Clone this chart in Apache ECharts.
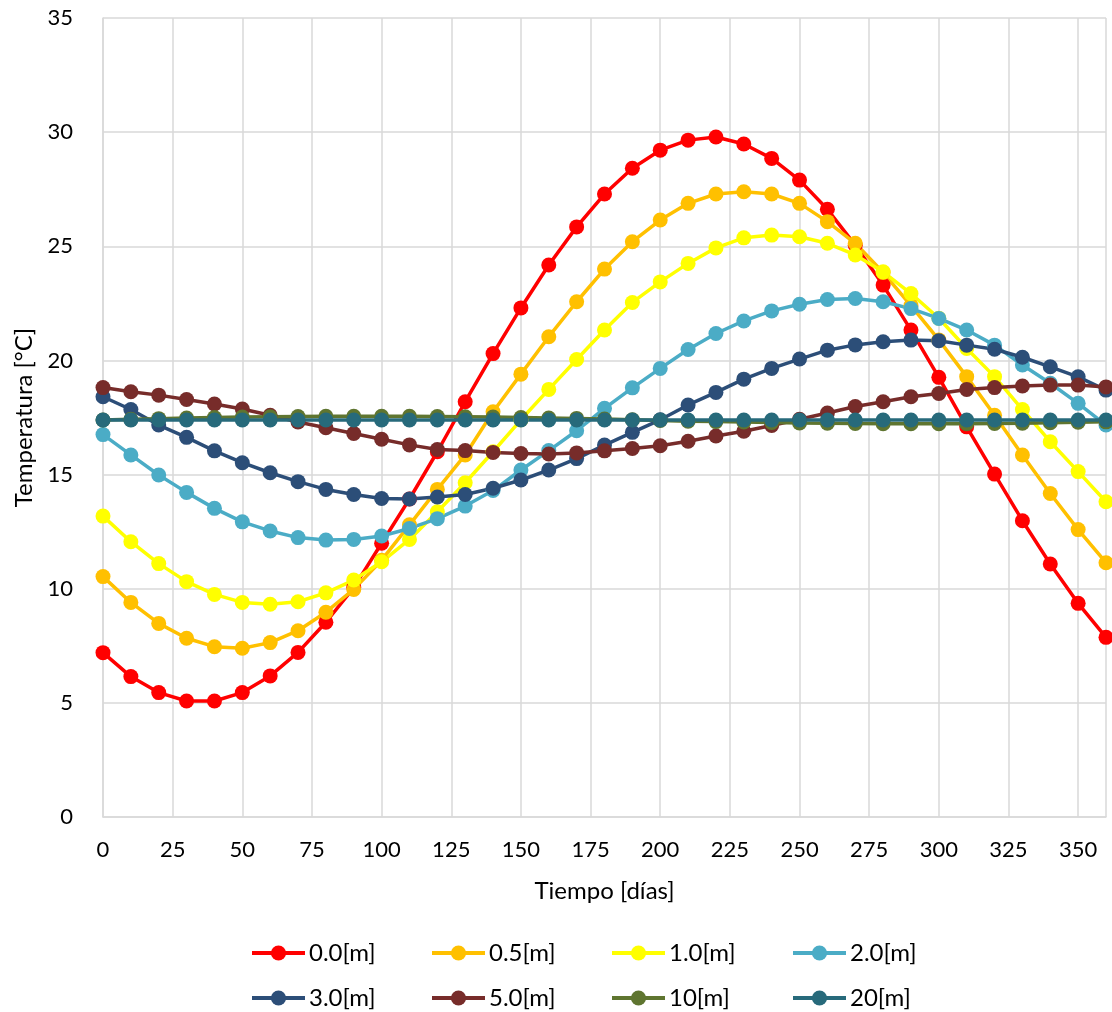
<!DOCTYPE html>
<html>
<head>
<meta charset="utf-8">
<script src="https://cdn.jsdelivr.net/npm/echarts@6/dist/echarts.min.js"></script>
<style>
html,body{margin:0;padding:0;background:#fff;}
#chart{width:1112px;height:1012px;}
</style>
</head>
<body>
<div id="chart"></div>
<script>
const days = [0,10,20,30,40,50,60,70,80,90,100,110,120,130,140,150,160,170,180,190,200,210,220,230,240,250,260,270,280,290,300,310,320,330,340,350,360];
const xTicks = [0,25,50,75,100,125,150,175,200,225,250,275,300,325,350];
const yTicks = [0,5,10,15,20,25,30,35];

const seriesNames = ['0.0[m]','0.5[m]','1.0[m]','2.0[m]','3.0[m]','5.0[m]','10[m]','20[m]'];

const t00 = [7.2,6.15,5.45,5.08,5.08,5.45,6.18,7.21,8.53,10.05,11.99,13.93,16.0,18.19,20.3,22.3,24.18,25.85,27.29,28.42,29.21,29.65,29.79,29.48,28.85,27.9,26.62,25.05,23.3,21.33,19.26,17.09,15.02,12.98,11.08,9.36,7.87];
const t05 = [10.53,9.40,8.48,7.83,7.46,7.39,7.64,8.16,8.97,9.97,11.25,12.8,14.35,15.86,17.75,19.40,21.04,22.57,24.0,25.2,26.15,26.88,27.29,27.39,27.29,26.88,26.08,25.13,23.85,22.4,20.9,19.29,17.6,15.86,14.17,12.59,11.14];
const t10 = [13.18,12.06,11.1,10.31,9.75,9.40,9.32,9.43,9.82,10.38,11.18,12.16,13.37,14.64,16.0,17.4,18.73,20.04,21.33,22.54,23.44,24.25,24.93,25.37,25.49,25.42,25.13,24.62,23.88,22.93,21.85,20.52,19.29,17.85,16.44,15.13,13.81];
const t20 = [16.75,15.86,14.98,14.22,13.52,12.93,12.53,12.24,12.13,12.16,12.31,12.64,13.07,13.62,14.3,15.2,16.05,16.92,17.9,18.8,19.65,20.48,21.18,21.73,22.17,22.46,22.67,22.71,22.57,22.27,21.84,21.33,20.67,19.8,19.0,18.12,17.17];
const t30 = [18.41,17.85,17.17,16.63,16.04,15.52,15.08,14.69,14.35,14.13,13.95,13.93,14.02,14.13,14.4,14.76,15.2,15.7,16.29,16.85,17.4,18.05,18.6,19.18,19.65,20.06,20.45,20.68,20.82,20.89,20.86,20.67,20.49,20.14,19.72,19.28,18.70];
const t50 = [18.81,18.63,18.48,18.29,18.09,17.87,17.6,17.3,17.05,16.8,16.55,16.3,16.1,16.05,15.97,15.92,15.9,15.95,16.04,16.14,16.26,16.46,16.69,16.9,17.15,17.42,17.7,17.98,18.19,18.41,18.55,18.73,18.81,18.88,18.92,18.92,18.84];
const t100 = [17.39,17.42,17.45,17.48,17.5,17.52,17.53,17.54,17.55,17.55,17.55,17.55,17.54,17.53,17.52,17.5,17.48,17.46,17.43,17.4,17.37,17.34,17.32,17.3,17.28,17.26,17.25,17.24,17.23,17.23,17.23,17.23,17.24,17.25,17.27,17.29,17.31];
const t200 = [17.39,17.39,17.39,17.39,17.39,17.39,17.39,17.39,17.39,17.39,17.39,17.39,17.39,17.39,17.39,17.39,17.39,17.39,17.39,17.39,17.39,17.39,17.39,17.39,17.39,17.39,17.39,17.39,17.39,17.39,17.39,17.39,17.39,17.39,17.39,17.39,17.39];

const allSeries = [t00,t05,t10,t20,t30,t50,t100,t200];
const colors = ['#FF0000','#FFC000','#FFFF00','#4BACC6','#2C4E78','#772C2A','#5F7530','#276A7B'];

const FONT = 'Lato, "Open Sans", sans-serif';
const chart = echarts.init(document.getElementById('chart'), null, {renderer:'canvas'});

const series = allSeries.map((vals, i) => ({
  name: seriesNames[i],
  type: 'line',
  data: days.map((d, j) => [d, vals[j]]),
  symbol: 'circle',
  symbolSize: 15,
  showSymbol: true,
  lineStyle: {color: colors[i], width: 3.5},
  itemStyle: {color: colors[i]},
  emphasis: {disabled: true},
  animation: false,
  clip: false
}));

// legend layout: 4 columns x 2 rows
const legendLefts = [245, 425, 605, 786];
const legendTops = [936, 981];

const legends = seriesNames.map((nm, i) => ({
  left: legendLefts[i % 4],
  top: legendTops[Math.floor(i / 4)],
  orient: 'horizontal',
  itemWidth: 53, itemHeight: 19, itemGap: 0,
  data: [nm], selectedMode: false,
  lineStyle: {width: 4},
  textStyle: {fontFamily: FONT, fontSize: 24, color: '#000', lineHeight: 24, padding: [0,0,0,-1]}
}));

const option = {
  backgroundColor: '#fff',
  animation: false,
  grid: {left: 103, right: 6, top: 18, bottom: 195, containLabel: false},
  xAxis: {
    type: 'value', min: 0, max: 360, interval: 25,
    axisLine: {show: true, lineStyle: {color: '#D9D9D9', width: 1.5}},
    axisTick: {show: false},
    axisLabel: {fontFamily: FONT, fontSize: 22, color: '#000', margin: 22,
      formatter: v => (xTicks.indexOf(v) >= 0 ? String(v) : '')},
    splitLine: {show: true, lineStyle: {color: '#D9D9D9', width: 1.5}},
    name: 'Tiempo [días]', nameLocation: 'middle', nameGap: 62,
    nameTextStyle: {fontFamily: FONT, fontSize: 24, color: '#000'}
  },
  yAxis: {
    type: 'value', min: 0, max: 35, interval: 5,
    axisLine: {show: true, lineStyle: {color: '#D9D9D9', width: 1.5}},
    axisTick: {show: false},
    axisLabel: {fontFamily: FONT, fontSize: 22, color: '#000', margin: 30,
      formatter: v => (yTicks.indexOf(v) >= 0 ? String(v) : '')},
    splitLine: {show: true, lineStyle: {color: '#D9D9D9', width: 1.5}},
    name: 'Temperatura [°C]', nameLocation: 'middle', nameRotate: 90, nameGap: 67,
    nameTextStyle: {fontFamily: FONT, fontSize: 24, color: '#000'}
  },
  legend: legends,
  series: series
};
chart.setOption(option);
</script>
</body>
</html>
